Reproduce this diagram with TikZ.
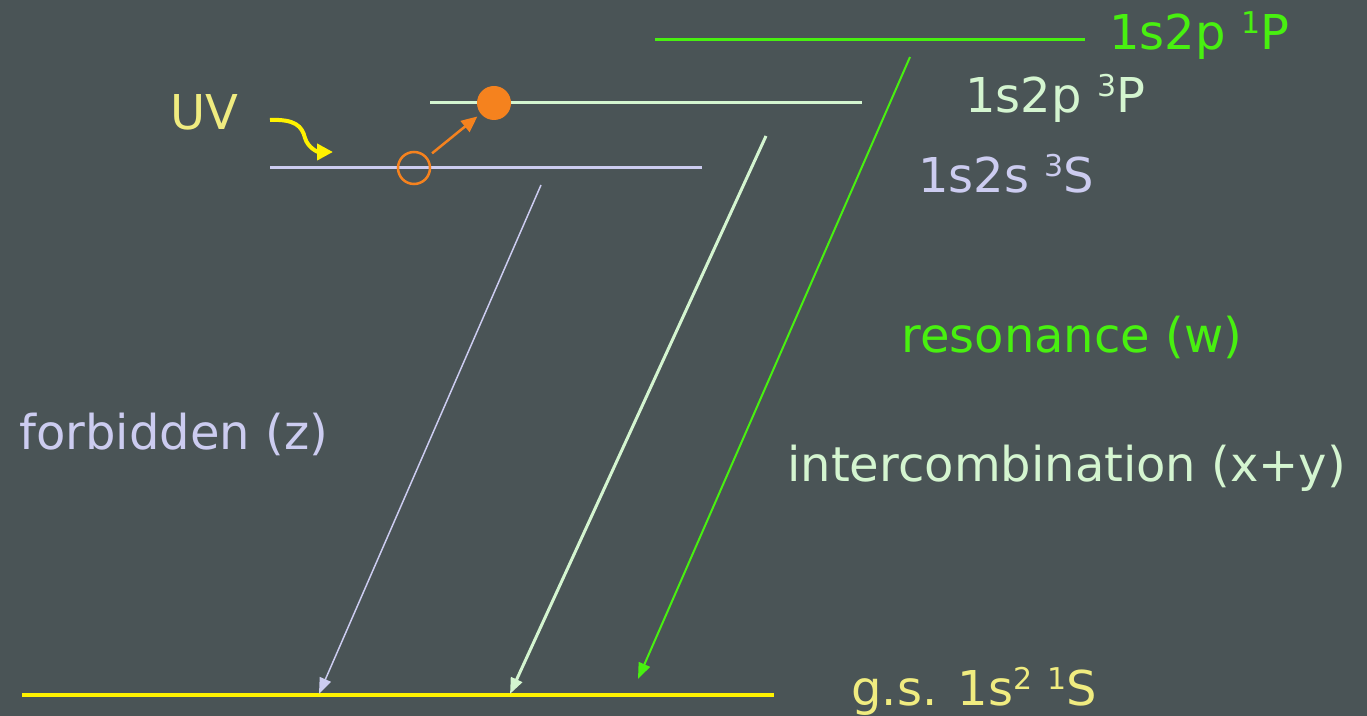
\documentclass[tikz,border=0pt]{standalone}
\usepackage{fontspec}
\setmainfont{DejaVu Sans}
\usepackage{xcolor}
\usetikzlibrary{arrows.meta}

\definecolor{bgslate}{RGB}{74,84,86}
\definecolor{resgreen}{RGB}{72,240,16}
\definecolor{tripgreen}{RGB}{212,245,208}
\definecolor{lavend}{RGB}{204,204,240}
\definecolor{paleyel}{RGB}{240,236,128}
\definecolor{orng}{RGB}{245,130,30}

\newcommand{\upx}[1]{\raisebox{8pt}{\fontsize{15}{15}\selectfont #1}}

\begin{document}
\begin{tikzpicture}[
  x=0.5pt, y=-0.5pt,
  lvl/.style  ={line width=1.5pt},
  lbl/.style  ={anchor=base west, inner sep=0pt, font=\fontsize{24}{28}\selectfont},
  arr/.style  ={-{Triangle[length=8pt,width=6pt]}},
  hole/.style ={circle, draw=orng, line width=1.25pt, minimum size=16pt, inner sep=0pt},
  elec/.style ={circle, fill=orng, minimum size=17pt, inner sep=0pt}
]
\fill[bgslate] (0,0) rectangle (1367,716);
\useasboundingbox (0,0) rectangle (1367,716);

% levels
\coordinate (p1L) at (655,40);  \coordinate (p1R) at (1085,40);
\coordinate (p3L) at (430,103); \coordinate (p3R) at (862,103);
\coordinate (s3L) at (270,168); \coordinate (s3R) at (702,168);
\coordinate (gsL) at (22,695);  \coordinate (gsR) at (774,695);
\draw[lvl, resgreen]  (p1L) -- (p1R);
\draw[lvl, tripgreen] (p3L) -- (p3R);
\draw[lvl, lavend]    (s3L) -- (s3R);
\draw[line width=2pt, yellow] (gsL) -- (gsR);

\node[lbl, resgreen]  (p1lbl) at (1109,50)  {1s2p \upx{1}P};
\node[lbl, tripgreen] (p3lbl) at (965,113)  {1s2p \upx{3}P};
\node[lbl, lavend]    (s3lbl) at (918,193)  {1s2s \upx{3}S};
\node[lbl, paleyel]   (gslbl) at (851,705)  {g.s. 1s\upx{2} \upx{1}S};

% transitions
\coordinate (z0) at (541,185); \coordinate (z1) at (319,694);
\coordinate (xy0) at (766,136); \coordinate (xy1) at (510,694);
\coordinate (w0) at (910,57);   \coordinate (w1) at (638,679);
\draw[arr, lavend, line width=0.75pt] (z0) -- (z1);
\draw[arr, tripgreen, line width=1.5pt] (xy0) -- (xy1);
\draw[arr, resgreen, line width=1pt] (w0) -- (w1);

\node[lbl, resgreen]  (wlbl)  at (901,353) {resonance (w)};
\node[lbl, tripgreen] (xylbl) at (787,482) {intercombination (x+y)};
\node[lbl, lavend]    (zlbl)  at (19,450)  {forbidden (z)};

% UV excitation
\node[lbl, paleyel] (uv) at (170,130) {UV};
\coordinate (uv0) at (270,120);
\coordinate (uv1) at (333,152);
\draw[yellow, line width=2pt, -{Triangle[length=8pt,width=8pt]}]
  (uv0) .. controls (295,119) and (302,126) .. (305,138)
        .. controls (308,148) and (318,152) .. (uv1);
\node[hole] (hole) at (414,168) {};
\node[elec] (elec) at (494,103) {};
\draw[orng, line width=1.25pt, -{Triangle[length=8pt,width=7pt]},
      shorten <=3pt, shorten >=2pt] (hole) -- (elec);
\end{tikzpicture}
\end{document}
